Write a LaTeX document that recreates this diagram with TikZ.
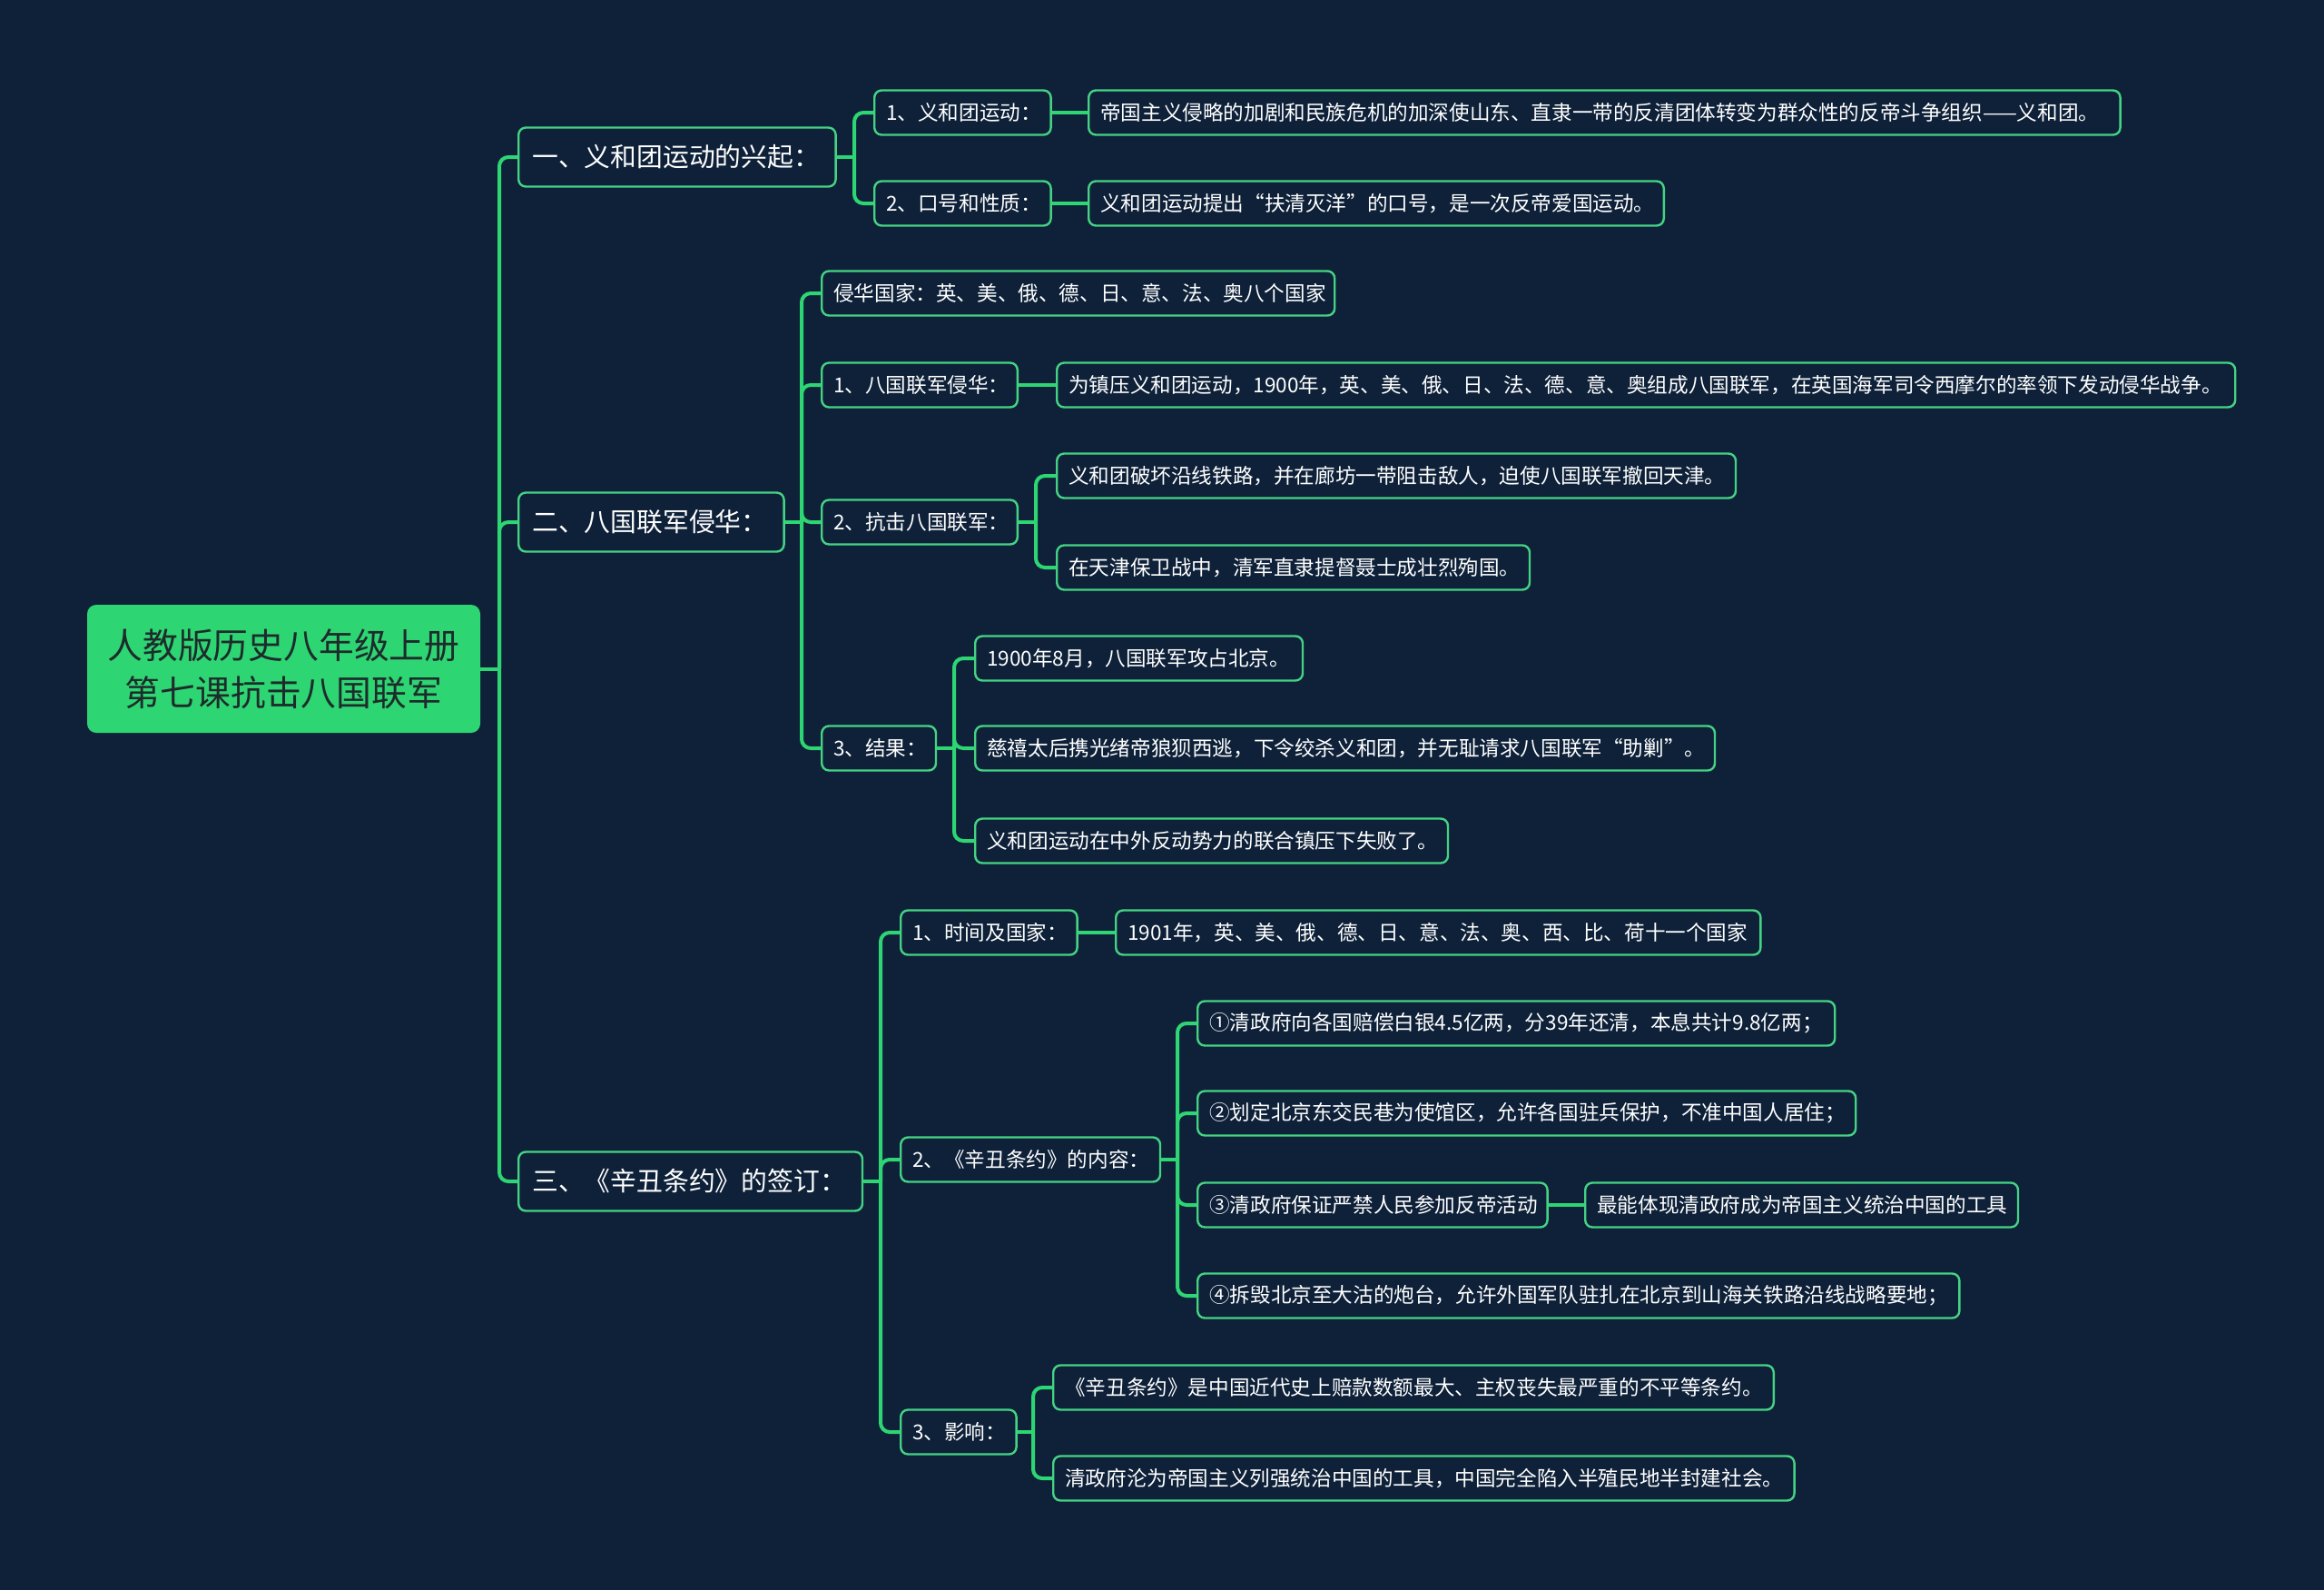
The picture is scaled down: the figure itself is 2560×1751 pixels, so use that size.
\documentclass[tikz,border=0pt]{standalone}
\usepackage{fontspec}
\newfontfamily\cjk{Noto Sans CJK SC}
\definecolor{bg}{HTML}{0E2139}
\definecolor{ln}{HTML}{2ED573}
\definecolor{bd}{HTML}{45D283}
\definecolor{rootg}{HTML}{2ED573}
\definecolor{roott}{HTML}{1E2B2B}
\begin{document}
\begin{tikzpicture}[x=0.5pt,y=-0.5pt,
  box/.style={draw=bd, line width=1.2pt, fill=bg, rounded corners=4pt, text=white,
    font=\cjk\fontsize{11.3}{13}\selectfont, minimum height=24.5pt,
    inner xsep=6.5pt, inner ysep=0pt, anchor=west, align=left},
  lone/.style={box, font=\cjk\fontsize{14.4}{17}\selectfont, minimum height=32.5pt, inner xsep=7.5pt},
  tw/.style={text width=#1pt},
  rootbox/.style={fill=rootg, rounded corners=5pt, text=roott, align=center,
    font=\cjk\fontsize{19.4}{26}\selectfont, minimum width=216.5pt, minimum height=70.5pt},
  conn/.style={draw=ln, line width=2pt, rounded corners=5pt}]
\fill[bg] (0,0) rectangle (2560,1751);
\useasboundingbox (0,0) rectangle (2560,1751);

% root
\node[rootbox] (root) at (312.5,736.5) {人教版历史八年级上册\\第七课抗击八国联军};

% level 1
\node[lone,tw=159.7] (a) at (570,173) {\mbox{一、义和团运动的兴起：}};
\node[lone,tw=131.2] (b) at (570,575) {\mbox{二、八国联军侵华：}};
\node[lone,tw=174.4] (c) at (570,1301) {\mbox{三、《辛丑条约》的签订：}};

% branch a
\node[box,tw=84.2] (a1) at (962,124) {\mbox{1、义和团运动：}};
\node[box,tw=84.2] (a2) at (962,224) {\mbox{2、口号和性质：}};
\node[box,tw=555.2] (a1x) at (1198,124) {\mbox{帝国主义侵略的加剧和民族危机的加深使山东、直隶一带的反清团体转变为群众性的反帝斗争组织——义和团。}};
\node[box,tw=303.8] (a2x) at (1198,224) {\mbox{义和团运动提出“扶清灭洋”的口号，是一次反帝爱国运动。}};

% branch b
\node[box,tw=269.5] (b0) at (904,323) {\mbox{侵华国家：英、美、俄、德、日、意、法、奥八个国家}};
\node[box,tw=94.8] (b1) at (904,424) {\mbox{1、八国联军侵华：}};
\node[box,tw=636] (b1x) at (1163,424) {\mbox{为镇压义和团运动，1900年，英、美、俄、日、法、德、意、奥组成八国联军，在英国海军司令西摩尔的率领下发动侵华战争。}};
\node[box,tw=94.8] (b2) at (904,575) {\mbox{2、抗击八国联军：}};
\node[box,tw=360.9] (b2a) at (1163,524) {\mbox{义和团破坏沿线铁路，并在廊坊一带阻击敌人，迫使八国联军撤回天津。}};
\node[box,tw=247.4] (b2b) at (1163,625) {\mbox{在天津保卫战中，清军直隶提督聂士成壮烈殉国。}};
\node[box,tw=49.9] (b3) at (904,824) {\mbox{3、结果：}};
\node[box,tw=167.4] (b3a) at (1073,725) {\mbox{1900年8月，八国联军攻占北京。}};
\node[box,tw=394.4] (b3b) at (1073,824) {\mbox{慈禧太后携光绪帝狼狈西逃，下令绞杀义和团，并无耻请求八国联军“助剿”。}};
\node[box,tw=247.4] (b3c) at (1073,926) {\mbox{义和团运动在中外反动势力的联合镇压下失败了。}};

% branch c
\node[box,tw=84.2] (c1) at (991,1027) {\mbox{1、时间及国家：}};
\node[box,tw=342.1] (c1x) at (1228,1027) {\mbox{1901年，英、美、俄、德、日、意、法、奥、西、比、荷十一个国家}};
\node[box,tw=129.9] (c2) at (991,1277) {\mbox{2、《辛丑条约》的内容：}};
\node[box,tw=338] (c2a) at (1318,1127) {\mbox{①清政府向各国赔偿白银4.5亿两，分39年还清，本息共计9.8亿两；}};
\node[box,tw=349.5] (c2b) at (1318,1226) {\mbox{②划定北京东交民巷为使馆区，允许各国驻兵保护，不准中国人居住；}};
\node[box,tw=179.7] (c2c) at (1318,1327) {\mbox{③清政府保证严禁人民参加反帝活动}};
\node[box,tw=225.4] (c2cx) at (1745,1327) {\mbox{最能体现清政府成为帝国主义统治中国的工具}};
\node[box,tw=406.6] (c2d) at (1318,1427) {\mbox{④拆毁北京至大沽的炮台，允许外国军队驻扎在北京到山海关铁路沿线战略要地；}};
\node[box,tw=50.7] (c3) at (991,1577) {\mbox{3、影响：}};
\node[box,tw=383.8] (c3a) at (1159,1528) {\mbox{《辛丑条约》是中国近代史上赔款数额最大、主权丧失最严重的不平等条约。}};
\node[box,tw=395.2] (c3b) at (1159,1628) {\mbox{清政府沦为帝国主义列强统治中国的工具，中国完全陷入半殖民地半封建社会。}};

% bus points
\coordinate (rb) at (550,736.5);
\coordinate (ab) at (941,173);
\coordinate (bb) at (883,575);
\coordinate (b2j) at (1141,575);
\coordinate (b3j) at (1051,824);
\coordinate (cb) at (970,1301);
\coordinate (c2j) at (1297,1277);
\coordinate (c3j) at (1138,1577);

% connectors
\draw[conn] (root.east) -- (rb);
\foreach \n in {a,b,c} \draw[conn] (rb) |- (\n.west);

\draw[conn] (a.east) -- (ab);
\foreach \n in {a1,a2} \draw[conn] (ab) |- (\n.west);
\draw[conn] (a1.east) -- (a1x.west);
\draw[conn] (a2.east) -- (a2x.west);

\draw[conn] (b.east) -- (bb);
\foreach \n in {b0,b1,b2,b3} \draw[conn] (bb) |- (\n.west);
\draw[conn] (b1.east) -- (b1x.west);
\draw[conn] (b2.east) -- (b2j);
\foreach \n in {b2a,b2b} \draw[conn] (b2j) |- (\n.west);
\draw[conn] (b3.east) -- (b3j);
\foreach \n in {b3a,b3b,b3c} \draw[conn] (b3j) |- (\n.west);

\draw[conn] (c.east) -- (cb);
\foreach \n in {c1,c2,c3} \draw[conn] (cb) |- (\n.west);
\draw[conn] (c1.east) -- (c1x.west);
\draw[conn] (c2.east) -- (c2j);
\foreach \n in {c2a,c2b,c2c,c2d} \draw[conn] (c2j) |- (\n.west);
\draw[conn] (c2c.east) -- (c2cx.west);
\draw[conn] (c3.east) -- (c3j);
\foreach \n in {c3a,c3b} \draw[conn] (c3j) |- (\n.west);
\end{tikzpicture}
\end{document}
